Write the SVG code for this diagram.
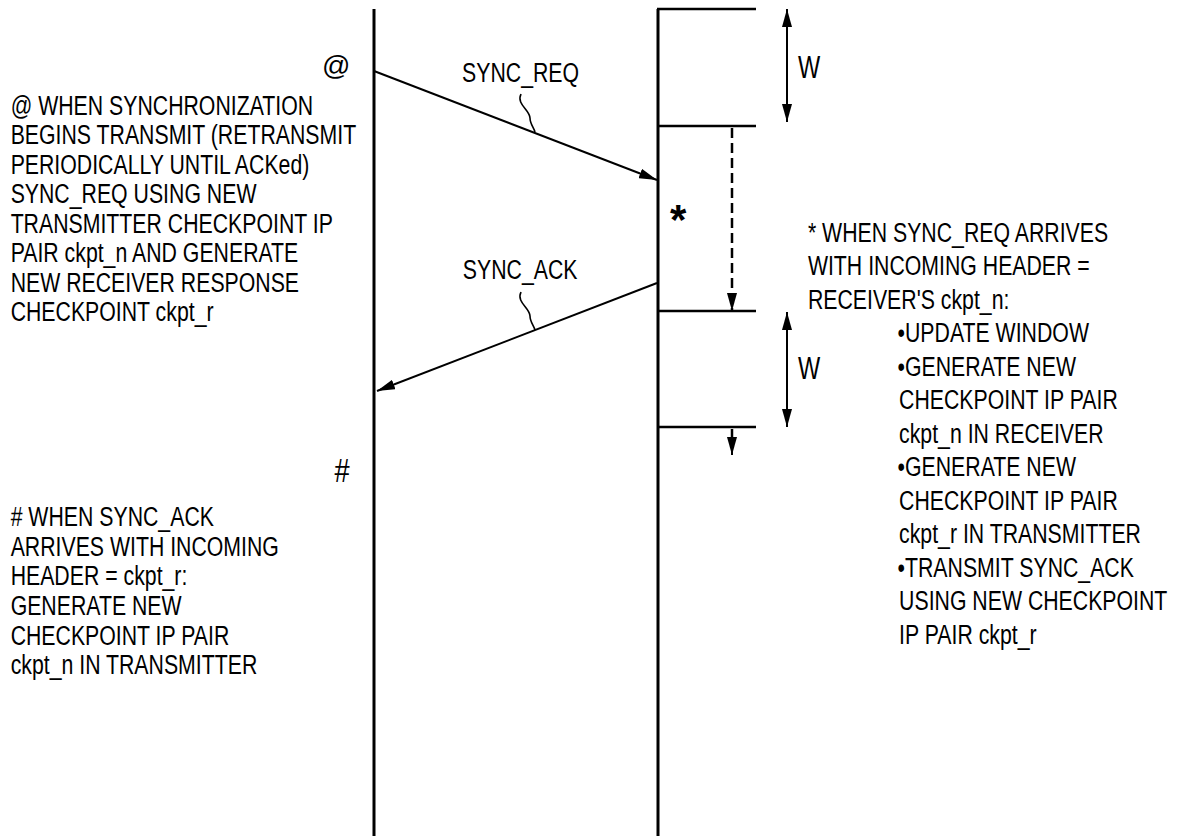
<svg xmlns="http://www.w3.org/2000/svg" width="1179" height="836" viewBox="0 0 1179 836">
<style>
  .t { font-family: "Liberation Sans", Arial, sans-serif; font-size: 28px; fill: #000; }
  .big { font-family: "Liberation Sans", Arial, sans-serif; fill: #000; }
  .life { stroke: #000; stroke-width: 3; fill: none; }
  .tick { stroke: #000; stroke-width: 2.5; fill: none; }
  .msg { stroke: #000; stroke-width: 2; fill: none; }
  .lead { stroke: #000; stroke-width: 1.6; fill: none; }
  .dash { stroke: #000; stroke-width: 2.5; fill: none; stroke-dasharray: 10 5; }
</style>
<defs>
  <marker id="ah" viewBox="0 0 18 10" refX="18" refY="5" markerWidth="18" markerHeight="10" markerUnits="userSpaceOnUse" orient="auto-start-reverse">
    <path d="M0,0 L18,5 L0,10 z" fill="#000"/>
  </marker>
</defs>
<rect width="1179" height="836" fill="#fff"/>

<g id="transmitter">
  <line class="life" x1="374" y1="9" x2="374" y2="836"/>
</g>
<g id="receiver">
  <line class="life" x1="658" y1="9" x2="658" y2="836"/>
  <line class="tick" x1="657" y1="9" x2="756" y2="9"/>
  <line class="tick" x1="657" y1="126" x2="756" y2="126"/>
  <line class="tick" x1="657" y1="311" x2="756" y2="311"/>
  <line class="tick" x1="657" y1="427" x2="756" y2="427"/>
</g>

<g id="window1">
  <line class="msg" x1="787" y1="9" x2="787" y2="122" marker-start="url(#ah)" marker-end="url(#ah)"/>
  <text class="big" font-size="31" transform="scale(0.76 1)" x="1050" y="78">W</text>
</g>
<g id="window2">
  <line class="msg" x1="787" y1="312" x2="787" y2="427" marker-start="url(#ah)" marker-end="url(#ah)"/>
  <text class="big" font-size="31" transform="scale(0.76 1)" x="1050" y="379">W</text>
</g>

<g id="connectors">
  <line class="msg" x1="374" y1="71" x2="657" y2="180" marker-end="url(#ah)"/>
  <path class="lead" d="M521,94 C516,104 530,110 530,118 C530,124 534,128 535,132"/>
  <line class="msg" x1="657" y1="283" x2="377" y2="391" marker-end="url(#ah)"/>
  <path class="lead" d="M521,292 C516,302 530,308 530,316 C530,322 534,326 535,330"/>
  <line class="dash" x1="732" y1="128" x2="732" y2="311" marker-end="url(#ah)"/>
  <line class="dash" x1="732" y1="429" x2="732" y2="437"/>
  <line class="msg" x1="732" y1="440" x2="732" y2="455" marker-end="url(#ah)"/>
</g>

<g id="msg-labels" transform="scale(0.76 1)">
  <text class="t" x="608" y="82">SYNC_REQ</text>
  <text class="t" x="609" y="279">SYNC_ACK</text>
</g>

<g id="mark-at">
  <text class="big" font-size="28" x="322" y="75">@</text>
</g>
<g id="mark-star">
  <text class="big" font-size="42" font-weight="bold" x="670" y="234">*</text>
</g>
<g id="mark-hash">
  <text class="big" font-size="34" transform="scale(0.8 1)" x="418" y="482">#</text>
</g>

<g id="note-at" transform="scale(0.76 1)">
  <text class="t" x="14" y="115">@ WHEN SYNCHRONIZATION</text>
  <text class="t" x="14" y="144">BEGINS TRANSMIT (RETRANSMIT</text>
  <text class="t" x="14" y="174">PERIODICALLY UNTIL ACKed)</text>
  <text class="t" x="14" y="203">SYNC_REQ USING NEW</text>
  <text class="t" x="14" y="233">TRANSMITTER CHECKPOINT IP</text>
  <text class="t" x="14" y="262">PAIR ckpt_n AND GENERATE</text>
  <text class="t" x="14" y="292">NEW RECEIVER RESPONSE</text>
  <text class="t" x="14" y="321">CHECKPOINT ckpt_r</text>
</g>

<g id="note-hash" transform="scale(0.76 1)">
  <text class="t" x="14" y="526"># WHEN SYNC_ACK</text>
  <text class="t" x="14" y="556">ARRIVES WITH INCOMING</text>
  <text class="t" x="14" y="585">HEADER = ckpt_r:</text>
  <text class="t" x="14" y="615">GENERATE NEW</text>
  <text class="t" x="14" y="645">CHECKPOINT IP PAIR</text>
  <text class="t" x="14" y="674">ckpt_n IN TRANSMITTER</text>
</g>

<g id="note-star" transform="scale(0.76 1)">
  <text class="t" x="1063" y="242">* WHEN SYNC_REQ ARRIVES</text>
  <text class="t" x="1063" y="275">WITH INCOMING HEADER =</text>
  <text class="t" x="1063" y="309">RECEIVER'S ckpt_n:</text>
  <text class="t" x="1181" y="342">•UPDATE WINDOW</text>
  <text class="t" x="1181" y="376">•GENERATE NEW</text>
  <text class="t" x="1183" y="409">CHECKPOINT IP PAIR</text>
  <text class="t" x="1183" y="443">ckpt_n IN RECEIVER</text>
  <text class="t" x="1181" y="476">•GENERATE NEW</text>
  <text class="t" x="1183" y="510">CHECKPOINT IP PAIR</text>
  <text class="t" x="1183" y="543">ckpt_r IN TRANSMITTER</text>
  <text class="t" x="1181" y="577">•TRANSMIT SYNC_ACK</text>
  <text class="t" x="1183" y="610">USING NEW CHECKPOINT</text>
  <text class="t" x="1183" y="644">IP PAIR ckpt_r</text>
</g>
</svg>
